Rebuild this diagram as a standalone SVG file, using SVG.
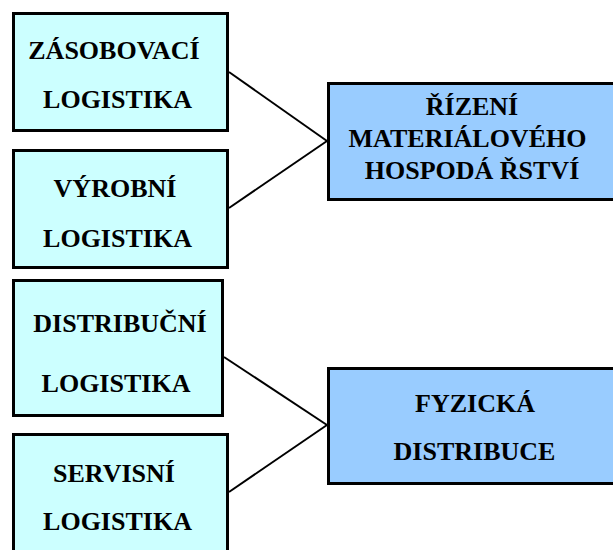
<svg xmlns="http://www.w3.org/2000/svg" width="613" height="550" viewBox="0 0 613 550">
  <style>
    .box { stroke: #000; stroke-width: 3; }
    .sub { fill: #CCFFFF; }
    .main { fill: #99CCFF; }
    .lbl { font-family: "Liberation Serif", "Times New Roman", serif; font-weight: bold; font-size: 26px; fill: #000; text-anchor: middle; }
    .link { stroke: #000; stroke-width: 2; fill: none; }
  </style>
  <rect width="613" height="550" fill="#fff"/>

  <!-- connectors -->
  <g id="connectors">
    <line class="link" x1="229" y1="72" x2="327" y2="141"/>
    <line class="link" x1="229" y1="208" x2="327" y2="141"/>
    <line class="link" x1="224" y1="357" x2="327" y2="425"/>
    <line class="link" x1="229" y1="492" x2="327" y2="425"/>
  </g>

  <g id="zasobovaci">
    <rect class="box sub" x="13.5" y="13.5" width="214" height="117"/>
    <text class="lbl" x="114" y="59">ZÁSOBOVACÍ</text>
    <text class="lbl" x="117.5" y="108">LOGISTIKA</text>
  </g>

  <g id="vyrobni">
    <rect class="box sub" x="13.5" y="150.5" width="214" height="117"/>
    <text class="lbl" x="115" y="197">VÝROBNÍ</text>
    <text class="lbl" x="117.5" y="247">LOGISTIKA</text>
  </g>

  <g id="distribucni">
    <rect class="box sub" x="13.5" y="280.5" width="209" height="135"/>
    <text class="lbl" x="120" y="332">DISTRIBUČNÍ</text>
    <text class="lbl" x="116" y="392">LOGISTIKA</text>
  </g>

  <g id="servisni">
    <rect class="box sub" x="13.5" y="434.5" width="214" height="130"/>
    <text class="lbl" x="114" y="482">SERVISNÍ</text>
    <text class="lbl" x="117.5" y="530">LOGISTIKA</text>
  </g>

  <g id="rizeni">
    <rect class="box main" x="328.5" y="83.5" width="300" height="116"/>
    <text class="lbl" x="472" y="115">ŘÍZENÍ</text>
    <text class="lbl" x="467.5" y="147">MATERIÁLOVÉHO</text>
    <text class="lbl" x="472" y="179">HOSPODÁ ŘSTVÍ</text>
  </g>

  <g id="fyzicka">
    <rect class="box main" x="328.5" y="368.5" width="300" height="115"/>
    <text class="lbl" x="475" y="412">FYZICKÁ</text>
    <text class="lbl" x="474.5" y="460">DISTRIBUCE</text>
  </g>
</svg>
